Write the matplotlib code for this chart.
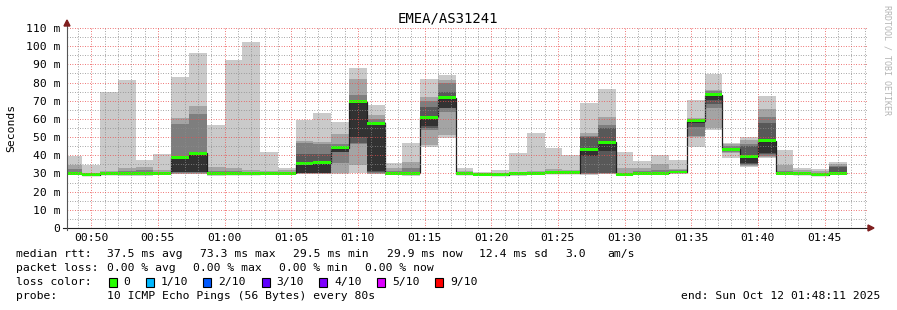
import matplotlib
matplotlib.use("Agg")
import matplotlib.pyplot as plt
from matplotlib.patches import Rectangle, Polygon
import numpy as np

W, H = 897, 310
FONT = "DejaVu Sans Mono"

title = "EMEA/AS31241"
ylabel = "Seconds"

# time axis (minutes after midnight)
first_bar_start = 48.0          # 00:48:00
step_seconds = 80
view_start = 48 + 11 / 60       # 00:48:11
view_end = 108 + 11 / 60        # 01:48:11

# sorted ping rtts (ms) per 80 s interval, p1 = min ... p10 = max
p1 = [29.3, 28.7, 29.5, 28.8, 28.8, 29.3, 29.5, 29.5, 28.8, 29.2, 29.2, 29.4, 29.5, 29.6, 29.6, 29.8,
      30.0, 29.5, 29.5, 28.8, 44.7, 49.3, 29.2, 28.8, 28.8, 28.8, 29.4, 29.6, 29.8, 29.0, 29.5, 28.8,
      29.2, 29.6, 29.8, 44.7, 53.9, 38.3, 33.8, 38.3, 29.3, 29.3, 28.6, 29.5]
p2 = [29.6, 28.9, 29.6, 29.3, 29.3, 29.6, 29.8, 29.8, 29.4, 29.5, 29.4, 29.6, 29.7, 29.8, 29.8, 30.2,
      34.6, 29.8, 29.8, 29.5, 45.6, 51.2, 29.5, 29.0, 29.0, 29.3, 29.7, 29.9, 30.0, 29.5, 29.8, 29.1,
      29.5, 29.8, 30.0, 49.9, 54.8, 41.1, 34.2, 38.8, 29.6, 29.5, 28.8, 29.7]
p3 = [29.8, 29.0, 29.7, 29.6, 29.6, 29.8, 30.2, 30.2, 29.7, 29.7, 29.6, 29.8, 29.9, 30.0, 30.0, 35.7,
      46.0, 30.2, 30.0, 29.8, 54.0, 64.0, 29.7, 29.2, 29.1, 29.6, 29.9, 30.1, 30.1, 29.8, 30.0, 29.3,
      29.7, 30.0, 30.2, 50.5, 65.8, 41.8, 34.7, 39.6, 29.8, 29.7, 29.0, 29.8]
p4 = [30.0, 29.1, 29.8, 29.8, 29.9, 29.9, 30.8, 30.6, 29.9, 29.8, 29.8, 29.9, 30.0, 30.3, 30.3, 41.8,
      46.6, 31.0, 30.1, 30.0, 54.8, 65.8, 29.8, 29.3, 29.2, 29.8, 30.0, 30.2, 30.2, 30.4, 30.2, 29.4,
      29.8, 30.1, 30.4, 55.7, 68.2, 42.2, 35.4, 40.5, 29.9, 29.8, 29.1, 29.9]
p5 = [30.1, 29.2, 29.9, 30.0, 30.1, 30.0, 31.0, 30.9, 30.0, 29.9, 29.9, 30.0, 30.2, 30.5, 30.5, 42.0,
      49.8, 31.5, 30.2, 30.1, 56.1, 66.2, 29.9, 29.4, 29.3, 29.9, 30.1, 30.3, 30.3, 39.6, 42.5, 29.5,
      29.9, 30.2, 30.6, 57.5, 70.4, 42.8, 35.9, 41.1, 30.0, 29.9, 29.2, 30.0]
p6 = [30.2, 29.3, 30.0, 30.2, 30.3, 30.1, 39.0, 41.0, 30.2, 30.0, 30.0, 30.1, 30.3, 35.5, 36.0, 44.2,
      69.5, 57.6, 30.3, 30.3, 61.0, 71.7, 30.0, 29.5, 29.4, 30.0, 30.2, 30.4, 30.4, 43.2, 47.1, 29.6,
      30.0, 30.3, 30.8, 59.0, 73.2, 43.4, 39.5, 48.0, 30.1, 30.0, 29.3, 30.1]
p7 = [31.0, 29.5, 30.2, 30.6, 30.8, 30.5, 39.5, 41.3, 30.6, 30.4, 30.3, 30.4, 30.6, 40.7, 40.7, 44.7,
      70.4, 58.5, 30.6, 31.0, 66.4, 75.0, 30.2, 29.7, 29.6, 30.3, 30.4, 30.8, 30.6, 49.9, 54.8, 29.9,
      30.5, 30.8, 31.2, 59.4, 74.0, 44.0, 45.3, 57.9, 30.5, 30.3, 29.6, 33.5]
p8 = [32.5, 29.8, 30.5, 31.5, 31.8, 31.0, 57.2, 62.7, 31.5, 31.2, 31.0, 30.9, 31.0, 46.5, 46.0, 46.2,
      73.2, 59.8, 31.5, 33.2, 70.0, 79.6, 30.6, 29.9, 29.9, 30.6, 30.8, 31.5, 31.0, 50.5, 56.5, 30.5,
      31.5, 31.7, 31.8, 59.8, 75.2, 45.0, 46.0, 60.9, 31.5, 31.0, 30.2, 34.2]
p9 = [34.7, 30.5, 31.5, 32.8, 33.4, 31.9, 60.5, 67.1, 33.7, 32.8, 31.9, 31.3, 31.9, 48.0, 47.5, 51.7,
      82.0, 62.2, 32.8, 36.5, 72.0, 81.4, 31.2, 30.3, 30.5, 31.0, 31.3, 32.4, 31.8, 52.4, 60.9, 33.2,
      33.2, 35.0, 32.4, 60.3, 75.9, 46.2, 48.4, 65.5, 34.7, 31.7, 31.3, 35.0]
p10 = [39.7, 34.7, 75.0, 81.4, 37.4, 40.5, 83.0, 96.3, 56.6, 92.6, 102.5, 42.0, 33.2, 59.4, 63.2, 58.3,
       88.0, 67.7, 35.6, 46.9, 82.0, 84.2, 32.8, 31.0, 31.7, 41.2, 52.4, 44.0, 40.1, 68.9, 76.5, 42.0,
       36.8, 40.1, 37.4, 70.4, 84.7, 46.9, 50.2, 72.6, 42.9, 32.8, 32.4, 36.5]
median = [30.2, 29.3, 29.9, 30.0, 30.2, 30.0, 39.0, 41.0, 30.0, 29.9, 29.9, 30.0, 30.2, 35.5, 36.0, 44.2,
          69.5, 57.6, 30.2, 30.2, 61.0, 71.7, 29.9, 29.5, 29.3, 30.0, 30.1, 30.3, 30.3, 43.2, 47.1, 29.5,
          30.0, 30.2, 30.8, 59.0, 73.2, 43.4, 39.5, 48.0, 30.0, 29.9, 29.2, 30.0]

xtick_minutes = [50, 55, 60, 65, 70, 75, 80, 85, 90, 95, 100, 105]
ytick_values = [0, 10, 20, 30, 40, 50, 60, 70, 80, 90, 100, 110]

loss_labels = ["0", "1/10", "2/10", "3/10", "4/10", "5/10", "9/10"]
loss_colors = ["#26ff00", "#00b8ff", "#0059ff", "#5e00ff", "#7e00ff", "#dd00ff", "#ff0000"]

# ---------------------------------------------------------------------------
fig = plt.figure(figsize=(W / 100, H / 100), dpi=100)
fig.patch.set_facecolor("white")
ax = fig.add_axes([67 / W, 82 / H, 800 / W, 200 / H])
ax.set_facecolor("white")

n = len(median)
edges = first_bar_start + np.arange(n + 1) * step_seconds / 60.0
pings = np.array([p1, p2, p3, p4, p5, p6, p7, p8, p9, p10])
med = np.array(median)

# smoke bands (outer light -> inner dark)
half = 5
for ibot in range(1, half + 1):
    c = int(190 / half * (half - ibot)) + 50
    col = "#%02x%02x%02x" % (c, c, c)
    ax.stairs(pings[10 - ibot], edges, baseline=pings[ibot - 1], fill=True,
              color=col, linewidth=0, zorder=1)

# median line and loss-coloured median band
ax.stairs(med, edges, baseline=None, color="#202020", linewidth=0.9, zorder=2)
medlw = 0.8
ax.stairs(med + medlw, edges, baseline=med - medlw, fill=True,
          color=loss_colors[0], linewidth=0, zorder=2.2)

ax.set_xlim(view_start, view_end)
ax.set_ylim(0, 110)

ax.set_xticks(xtick_minutes, ["%02d:%02d" % (m // 60, m % 60) for m in xtick_minutes])
ax.set_xticks(np.arange(49, 109, 1), minor=True)
ax.set_yticks(ytick_values, ["0" if v == 0 else "%d m" % v for v in ytick_values])
ax.set_yticks(np.arange(5, 110, 10), minor=True)

ax.tick_params(axis="both", which="both", length=0)
ax.tick_params(axis="x", pad=3.6, labelsize=8.2)
ax.tick_params(axis="y", pad=5, labelsize=8.2)
for lab in ax.get_xticklabels() + ax.get_yticklabels():
    lab.set_family(FONT)

ax.set_axisbelow(False)
ax.grid(which="major", color=(0.92, 0.3, 0.3, 0.38), linestyle=(0, (0.72, 1.8)), linewidth=0.72)
ax.grid(which="minor", color=(0.55, 0.55, 0.55, 0.35), linestyle=(0, (0.72, 1.8)), linewidth=0.72)

for s in ax.spines.values():
    s.set_visible(False)

# axes lines with arrows
px_x = (view_end - view_start) / 800.0
px_y = 110 / 200.0
ax.plot([view_start - 4 * px_x, view_end + 2 * px_x], [0, 0], color="#202020",
        lw=0.8, clip_on=False, zorder=4)
ax.plot([view_start, view_start], [-2 * px_y, 110 + 4 * px_y], color="#555555",
        lw=0.8, clip_on=False, zorder=4)
arrow_c = "#7f1f1f"
ax.add_patch(Polygon([[view_end + 1 * px_x, -3 * px_y], [view_end + 1 * px_x, 3 * px_y],
                      [view_end + 7 * px_x, 0]], closed=True, color=arrow_c,
                     clip_on=False, zorder=5))
ax.add_patch(Polygon([[view_start - 3 * px_x, 110 + 2 * px_y], [view_start + 3 * px_x, 110 + 2 * px_y],
                      [view_start, 110 + 8 * px_y]], closed=True, color=arrow_c,
                     clip_on=False, zorder=5))

# titles
fig.text(448 / W, 1 - 19 / H, title, ha="center", va="center", fontsize=10, family=FONT)
fig.text(11 / W, 1 - 128 / H, ylabel, rotation=90, ha="center", va="center",
         fontsize=8.2, family=FONT)
fig.text(887 / W, 1 - 60 / H, "RRDTOOL / TOBI OETIKER", rotation=270, ha="center",
         va="center", fontsize=6, family=FONT, color="#b4b4b4")

def t(x, y, s, **kw):
    fig.text(x / W, 1 - y / H, s, ha=kw.pop("ha", "left"), va="center",
             fontsize=8.2, family=FONT, **kw)

y1, y2, y3, y4 = 254.3, 268.3, 282.3, 296.0
t(16, y1, "median rtt:")
for x, s in [(107, "37.5 ms avg"), (200, "73.3 ms max"), (293, "29.5 ms min"),
             (386.5, "29.9 ms now"), (479.3, "12.4 ms sd"), (565, "3.0"), (607.3, "am/s")]:
    t(x, y1, s)
t(16, y2, "packet loss:")
for x, s in [(107, "0.00 % avg"), (193.3, "0.00 % max"), (279.3, "0.00 % min"),
             (365.3, "0.00 % now")]:
    t(x, y2, s)
t(16, y3, "loss color:")
box_x = [108.7, 145.7, 203.3, 261.7, 319.3, 377.3, 435.0]
for bx, lab, col in zip(box_x, loss_labels, loss_colors):
    fig.add_artist(Rectangle((bx / W, (H - (y3 + 4.5)) / H), 8 / W, 9 / H,
                             transform=fig.transFigure, facecolor=col,
                             edgecolor="black", linewidth=0.8))
    t(bx + 15, y3, lab)
t(16, y4, "probe:")
t(107, y4, "10 ICMP Echo Pings (56 Bytes) every 80s")
t(880, y4, "end: Sun Oct 12 01:48:11 2025", ha="right")

fig.savefig("out.png", dpi=100, facecolor="white")
